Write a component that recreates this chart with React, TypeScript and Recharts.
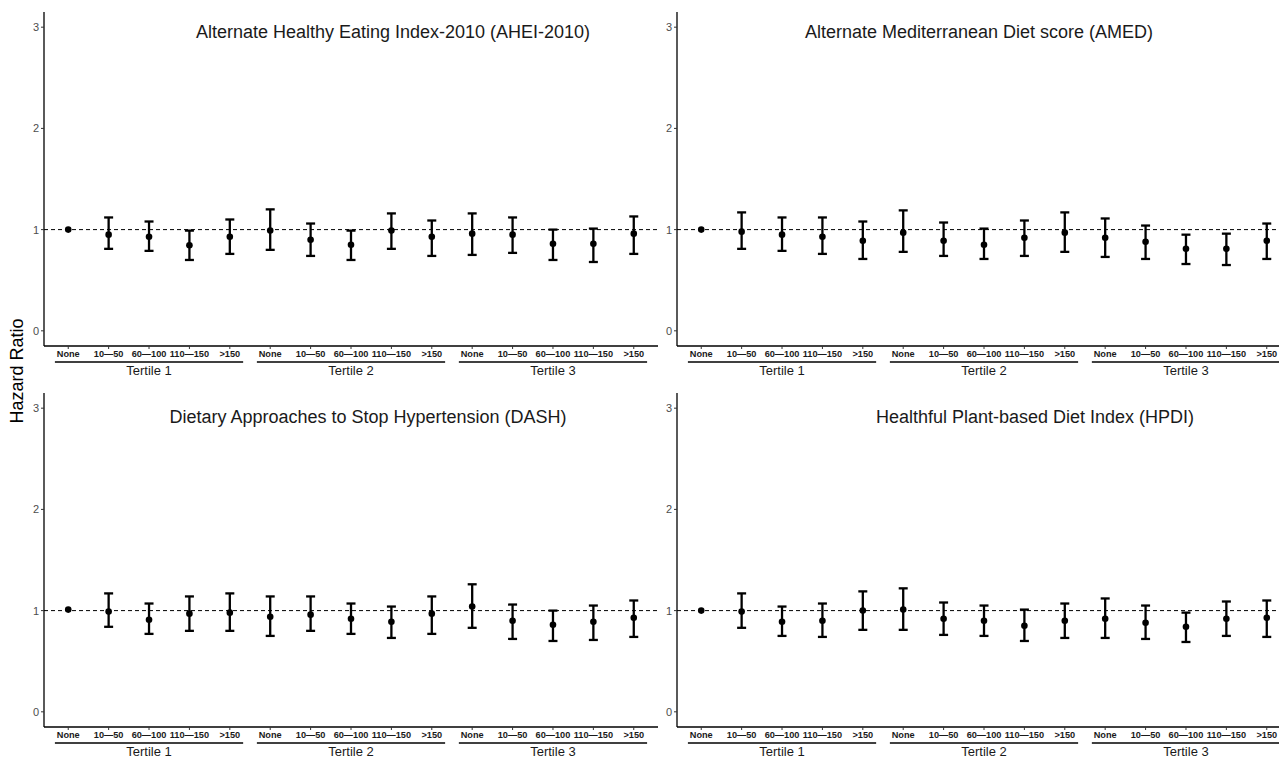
import React from 'react';
import { ComposedChart, Scatter, XAxis, YAxis, ErrorBar, ReferenceLine } from 'recharts';

// ---------- data ----------
const doseLabels = ['None', '10\u201450', '60\u2014100', '110\u2014150', '>150'];
const tertileLabels = ['Tertile 1', 'Tertile 2', 'Tertile 3'];
const yTicks = [0, 1, 2, 3];

const aheiHR = [1.0, 0.95, 0.93, 0.845, 0.93, 0.99, 0.9, 0.85, 0.99, 0.93, 0.96, 0.95, 0.86, 0.86, 0.96];
const aheiLo = [null, 0.81, 0.79, 0.7, 0.76, 0.8, 0.74, 0.7, 0.81, 0.74, 0.75, 0.77, 0.7, 0.68, 0.76];
const aheiHi = [null, 1.12, 1.08, 0.99, 1.1, 1.2, 1.06, 0.99, 1.16, 1.09, 1.16, 1.12, 1.0, 1.01, 1.13];

const amedHR = [1.0, 0.98, 0.95, 0.93, 0.89, 0.97, 0.89, 0.85, 0.92, 0.97, 0.92, 0.88, 0.81, 0.81, 0.89];
const amedLo = [null, 0.81, 0.79, 0.76, 0.71, 0.78, 0.74, 0.71, 0.74, 0.78, 0.73, 0.71, 0.66, 0.65, 0.71];
const amedHi = [null, 1.17, 1.12, 1.12, 1.08, 1.19, 1.07, 1.01, 1.09, 1.17, 1.11, 1.04, 0.95, 0.96, 1.06];

const dashHR = [1.01, 0.99, 0.91, 0.97, 0.98, 0.94, 0.96, 0.92, 0.89, 0.97, 1.04, 0.9, 0.86, 0.89, 0.93];
const dashLo = [null, 0.84, 0.77, 0.8, 0.8, 0.75, 0.8, 0.77, 0.73, 0.77, 0.83, 0.72, 0.7, 0.71, 0.74];
const dashHi = [null, 1.17, 1.07, 1.14, 1.17, 1.14, 1.14, 1.07, 1.04, 1.14, 1.26, 1.06, 1.0, 1.05, 1.1];

const hpdiHR = [1.0, 0.99, 0.89, 0.9, 1.0, 1.01, 0.92, 0.9, 0.85, 0.9, 0.92, 0.88, 0.84, 0.92, 0.93];
const hpdiLo = [null, 0.83, 0.75, 0.74, 0.81, 0.81, 0.76, 0.75, 0.7, 0.73, 0.73, 0.72, 0.69, 0.75, 0.74];
const hpdiHi = [null, 1.17, 1.04, 1.07, 1.19, 1.22, 1.08, 1.05, 1.01, 1.07, 1.12, 1.05, 0.98, 1.09, 1.1];

const categories = tertileLabels.flatMap(() => doseLabels);
const xTicks = categories.map((_, i) => i + 1);

// ---------- layout ----------
const CHART_W = 660;
const CHART_H = 380;
const Y_AXIS_W = 44;
const X_AXIS_H = 34;
const TOP_M = 12;
const RIGHT_M = 2;
const PLOT_W = CHART_W - Y_AXIS_W - RIGHT_M;
const X_MIN = 0.4;
const X_MAX = categories.length + 0.6;
const STEP = PLOT_W / (X_MAX - X_MIN);
const FONT = "'Liberation Sans', Arial, Helvetica, sans-serif";

const Dot = (props: any) => {
  const { cx, cy } = props;
  if (cx == null || cy == null) return null;
  return <circle cx={cx} cy={cy} r={3.3} fill="#000" />;
};

const XTick = (props: any) => {
  const { x, y, payload } = props;
  const idx = payload.value - 1;
  const label = categories[idx];
  const pos = idx % doseLabels.length;
  const group = Math.floor(idx / doseLabels.length);
  return (
    <g>
      <text x={x} y={y + 6} textAnchor="middle" fontSize={9.2} fontWeight="bold" fill="#1a1a1a" fontFamily={FONT}>
        {label}
      </text>
      {pos === 2 && (
        <g>
          <line x1={x - 2.33 * STEP} x2={x + 2.33 * STEP} y1={y + 11} y2={y + 11} stroke="#000" strokeWidth={1.3} />
          <text x={x} y={y + 24} textAnchor="middle" fontSize={13} fill="#1a1a1a" fontFamily={FONT}>
            {tertileLabels[group]}
          </text>
        </g>
      )}
    </g>
  );
};

type PanelProps = {
  hr: number[];
  lo: (number | null)[];
  hi: (number | null)[];
  left: number;
  top: number;
};

const Panel = ({ hr, lo, hi, left, top }: PanelProps) => {
  const data = hr.map((v, i) => ({
    x: i + 1,
    y: v,
    err: lo[i] == null || hi[i] == null ? null : [v - (lo[i] as number), (hi[i] as number) - v],
  }));
  return (
    <div style={{ position: 'absolute', left, top, width: CHART_W, height: CHART_H }}>
      <ComposedChart width={CHART_W} height={CHART_H} margin={{ top: TOP_M, right: RIGHT_M, bottom: 0, left: 0 }}>
        <XAxis
          type="number"
          dataKey="x"
          domain={[X_MIN, X_MAX]}
          ticks={xTicks}
          interval={0}
          height={X_AXIS_H}
          tickSize={3}
          tickMargin={2}
          tickLine={{ stroke: '#333', strokeWidth: 1 }}
          axisLine={{ stroke: '#000', strokeWidth: 1.3 }}
          tick={<XTick />}
          allowDataOverflow
        />
        <YAxis
          type="number"
          dataKey="y"
          domain={[-0.15, 3.15]}
          ticks={yTicks}
          width={Y_AXIS_W}
          tickSize={3}
          tickMargin={2}
          tickLine={{ stroke: '#333', strokeWidth: 1 }}
          axisLine={{ stroke: '#000', strokeWidth: 1.3 }}
          tick={{ fontSize: 11, fill: '#4d4d4d', fontFamily: FONT }}
          allowDataOverflow
        />
        <ReferenceLine y={1} stroke="#000" strokeWidth={1} strokeDasharray="4 3" />
        <Scatter data={data} dataKey="y" fill="#000" shape={<Dot />} isAnimationActive={false}>
          <ErrorBar dataKey="err" direction="y" width={4.5} stroke="#000" strokeWidth={2.3} isAnimationActive={false} />
        </Scatter>
      </ComposedChart>
    </div>
  );
};

const Title = ({ text, cx, cy }: { text: string; cx: number; cy: number }) => (
  <div
    style={{
      position: 'absolute',
      left: cx - 300,
      top: cy - 11,
      width: 600,
      height: 22,
      lineHeight: '22px',
      textAlign: 'center',
      fontSize: 18,
      color: '#1a1a1a',
      fontFamily: FONT,
    }}
  >
    {text}
  </div>
);

export default function App() {
  return (
    <div
      style={{
        position: 'absolute',
        left: 0,
        top: 0,
        width: 1279,
        height: 760,
        overflow: 'hidden',
        background: '#fff',
        fontFamily: FONT,
      }}
    >
      <Panel hr={aheiHR} lo={aheiLo} hi={aheiHi} left={0} top={0} />
      <Panel hr={amedHR} lo={amedLo} hi={amedHi} left={633} top={0} />
      <Panel hr={dashHR} lo={dashLo} hi={dashHi} left={0} top={381} />
      <Panel hr={hpdiHR} lo={hpdiLo} hi={hpdiHi} left={633} top={381} />
      <Title text="Alternate Healthy Eating Index-2010 (AHEI-2010)" cx={393} cy={32} />
      <Title text="Alternate Mediterranean Diet score (AMED)" cx={979} cy={32} />
      <Title text="Dietary Approaches to Stop Hypertension (DASH)" cx={368} cy={417} />
      <Title text="Healthful Plant-based Diet Index (HPDI)" cx={1035} cy={417} />
      <div
        style={{
          position: 'absolute',
          left: 17 - 100,
          top: 371 - 12,
          width: 200,
          height: 24,
          lineHeight: '24px',
          textAlign: 'center',
          fontSize: 18,
          color: '#000',
          fontFamily: FONT,
          transform: 'rotate(-90deg)',
        }}
      >
        Hazard Ratio
      </div>
    </div>
  );
}
